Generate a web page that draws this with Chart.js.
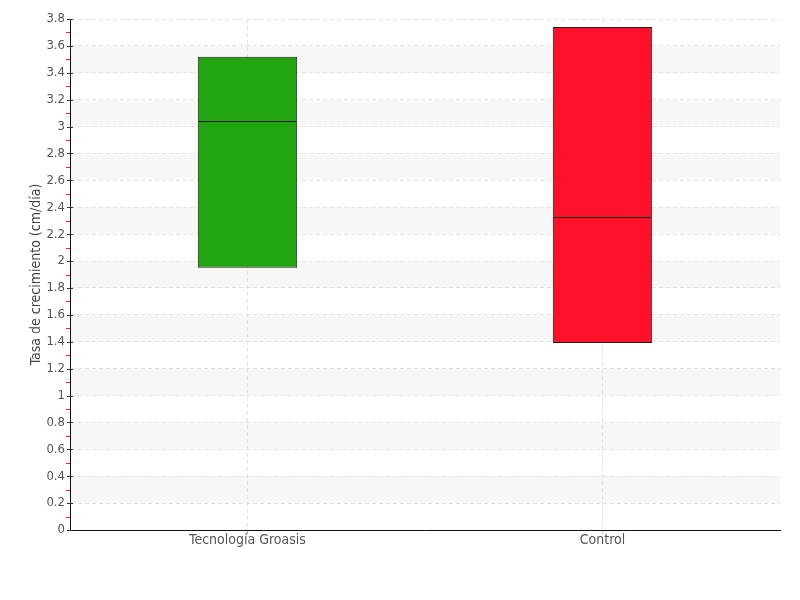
<!DOCTYPE html>
<html>
<head>
<meta charset="utf-8">
<script src="https://cdn.jsdelivr.net/npm/chart.js@4"></script>
<style>
html,body{margin:0;padding:0;background:#fff;}
#wrap{width:800px;height:600px;}
</style>
</head>
<body>
<div id="wrap"><canvas id="c" width="800" height="600"></canvas></div>
<script>
const categories = ['Tecnología Groasis', 'Control'];
const minValues = [1.95, 1.39];
const medianValues = [3.04, 2.33];
const maxValues = [3.52, 3.74];
const barColors = ['#22a511', '#ff0f28'];
const yTitle = 'Tasa de crecimiento (cm/día)';
const FONT = '"DejaVu Sans Condensed", "Liberation Sans Narrow", sans-serif';

const boxes = categories.map((c, i) => [minValues[i], maxValues[i]]);

const bandsPlugin = {
  id: 'bands',
  beforeDraw(chart) {
    const {ctx, chartArea} = chart;
    const y = chart.scales.y;
    ctx.save();
    ctx.fillStyle = '#f7f7f7';
    const ticks = y.ticks.map(t => t.value);
    for (let i = 0; i < ticks.length - 1; i++) {
      const lo = ticks[i], hi = ticks[i + 1];
      if (Math.round(lo * 10) % 4 === 2) {
        const y1 = y.getPixelForValue(hi), y2 = y.getPixelForValue(lo);
        ctx.fillRect(chartArea.left, y1, chartArea.right - chartArea.left, y2 - y1);
      }
    }
    ctx.restore();
  }
};

const medianPlugin = {
  id: 'medians',
  afterDatasetsDraw(chart) {
    const {ctx} = chart;
    const y = chart.scales.y;
    const meta = chart.getDatasetMeta(0);
    ctx.save();
    ctx.strokeStyle = '#1a1a1a';
    ctx.lineWidth = 1;
    meta.data.forEach((bar, i) => {
      const py = Math.round(y.getPixelForValue(medianValues[i])) + 0.5;
      ctx.beginPath();
      ctx.moveTo(bar.x - bar.width / 2 + 1, py);
      ctx.lineTo(bar.x + bar.width / 2 - 1, py);
      ctx.stroke();
    });
    ctx.restore();
  }
};

const ticksPlugin = {
  id: 'tickmarks',
  afterDraw(chart) {
    const {ctx, chartArea} = chart;
    const y = chart.scales.y;
    const x0 = chartArea.left;
    ctx.save();
    ctx.lineWidth = 1;
    const ticks = y.ticks.map(t => t.value);
    ticks.forEach((v, i) => {
      const py = Math.round(y.getPixelForValue(v)) + 0.5;
      ctx.strokeStyle = '#333';
      ctx.beginPath(); ctx.moveTo(x0 - 3, py); ctx.lineTo(x0 + 3, py); ctx.stroke();
      if (i < ticks.length - 1) {
        const pm = Math.round(y.getPixelForValue((v + ticks[i + 1]) / 2)) + 0.5;
        ctx.strokeStyle = '#ff2020';
        ctx.beginPath(); ctx.moveTo(x0 - 4, pm); ctx.lineTo(x0, pm); ctx.stroke();
      }
    });
    ctx.restore();
  }
};

new Chart(document.getElementById('c'), {
  type: 'bar',
  data: {
    labels: categories,
    datasets: [
      {data: boxes, backgroundColor: barColors, borderColor: '#1e1e1e', borderWidth: 1, borderSkipped: false}
    ]
  },
  options: {
    responsive: false,
    animation: false,
    layout: {padding: {top: 19, right: 20, left: 0, bottom: 0}},
    plugins: {legend: {display: false}, tooltip: {enabled: false}},
    datasets: {bar: {barPercentage: 0.28, categoryPercentage: 1}},
    scales: {
      x: {
        afterFit: s => { s.height = 70; },
        grid: {offset: false, color: '#e0e0e0', tickLength: 4, tickColor: '#cccccc'},
        border: {color: '#111', width: 1, dash: [4, 3]},
        ticks: {color: '#555', font: {family: FONT, size: 14}, padding: -2}
      },
      y: {
        min: 0, max: 3.8,
        afterFit: s => { s.width = 70; },
        grid: {color: ctx => ctx.tick && ctx.tick.value === 0 ? 'rgba(0,0,0,0)' : '#e2e2e2', drawTicks: false},
        border: {color: '#111', width: 1, dash: [4, 3]},
        ticks: {stepSize: 0.2, color: '#555', font: {family: FONT, size: 13}, padding: 5,
          callback: v => String(Math.round(v * 10) / 10)},
        title: {display: true, text: yTitle, color: '#444', font: {family: FONT, size: 14}, padding: {top: 28, bottom: 0}}
      }
    }
  },
  plugins: [bandsPlugin, medianPlugin, ticksPlugin]
});
</script>
</body>
</html>
